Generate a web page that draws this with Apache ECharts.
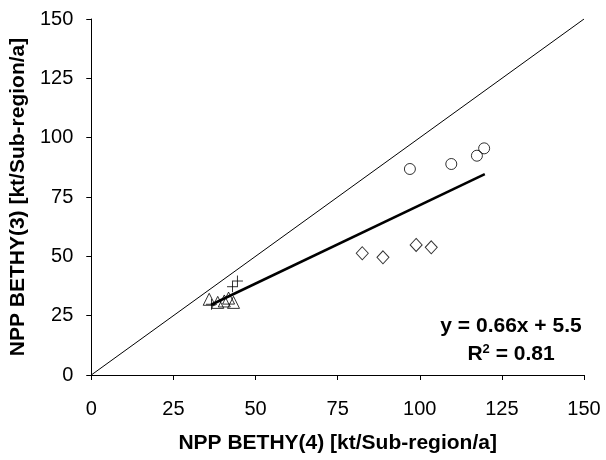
<!DOCTYPE html>
<html>
<head>
<meta charset="utf-8">
<script src="https://cdn.jsdelivr.net/npm/echarts@6/dist/echarts.min.js"></script>
<style>html,body{margin:0;padding:0;background:#fff}#c{width:606px;height:460px}</style>
</head>
<body>
<div id="c"></div>
<script>
var ticks = [0, 25, 50, 75, 100, 125, 150];
var circles = [[97.0, 86.8], [109.6, 88.9], [117.4, 92.4], [119.6, 95.5]];
var diamonds = [[82.5, 51.3], [88.8, 49.6], [98.9, 54.8], [103.5, 53.8]];
var triangles = [[35.9, 31.9], [38.5, 30.6], [40.5, 31.2], [41.8, 32.4], [43.3, 30.6]];
var crosses = [[36.6, 29.8], [43.0, 37.2], [44.5, 39.6]];
var oneToOne = [[0, 0], [150, 150]];
var regression = [[36.5, 29.6], [119.8, 84.6]];
var eqText = 'y = 0.66x + 5.5';
var r2Text = '0.81';

var chart = echarts.init(document.getElementById('c'), null, {renderer: 'canvas'});
var font = 'Arial, "Liberation Sans", sans-serif';
function axis(name, gap, lblMargin) {
  return {
    type: 'value', min: ticks[0], max: ticks[ticks.length - 1], interval: 25,
    name: name, nameLocation: 'middle', nameGap: gap,
    nameTextStyle: {fontFamily: font, fontWeight: 'bold', fontSize: 21, color: '#000'},
    axisLine: {show: true, onZero: false, lineStyle: {color: '#000', width: 1}},
    axisTick: {show: true, length: 5, lineStyle: {color: '#000'}},
    axisLabel: {fontFamily: font, fontSize: 20, color: '#000', margin: lblMargin},
    splitLine: {show: false}
  };
}
var mk = {color: 'none', borderColor: '#000', borderWidth: 1};
chart.setOption({
  animation: false,
  backgroundColor: '#fff',
  grid: {left: 90, right: 22, top: 19, bottom: 85},
  xAxis: axis('NPP BETHY(4) [kt/Sub-region/a]', 58, 24),
  yAxis: axis('NPP BETHY(3) [kt/Sub-region/a]', 51, 18),
  series: [
    {type: 'line', data: oneToOne, symbol: 'none', lineStyle: {color: '#000', width: 1}, z: 1},
    {type: 'line', data: regression, symbol: 'none', lineStyle: {color: '#000', width: 2.5}, z: 3},
    {type: 'scatter', data: circles, symbol: 'circle', symbolSize: 11, itemStyle: mk, z: 2},
    {type: 'scatter', data: diamonds, symbol: 'diamond', symbolSize: [12, 13], itemStyle: mk, z: 2},
    {type: 'scatter', data: triangles, symbol: 'triangle', symbolSize: [12, 12], itemStyle: mk, z: 2},
    {type: 'scatter', data: crosses, symbol: 'path://M0,5L10,5M5,0L5,10', symbolSize: 11, itemStyle: mk, z: 2}
  ],
  graphic: [
    {type: 'text', x: 511, y: 326, style: {text: eqText, font: 'bold 21px ' + font, fill: '#000', align: 'center', verticalAlign: 'middle'}},
    {type: 'text', x: 511, y: 354, style: {
      text: '{a|R}{s|2}{a| = ' + r2Text + '}',
      align: 'center', verticalAlign: 'middle',
      rich: {
        a: {font: 'bold 21px ' + font, fill: '#000', verticalAlign: 'bottom'},
        s: {font: 'bold 13px ' + font, fill: '#000', verticalAlign: 'top', padding: [0, 0, 9, 0]}
      }
    }}
  ]
});
</script>
</body>
</html>
